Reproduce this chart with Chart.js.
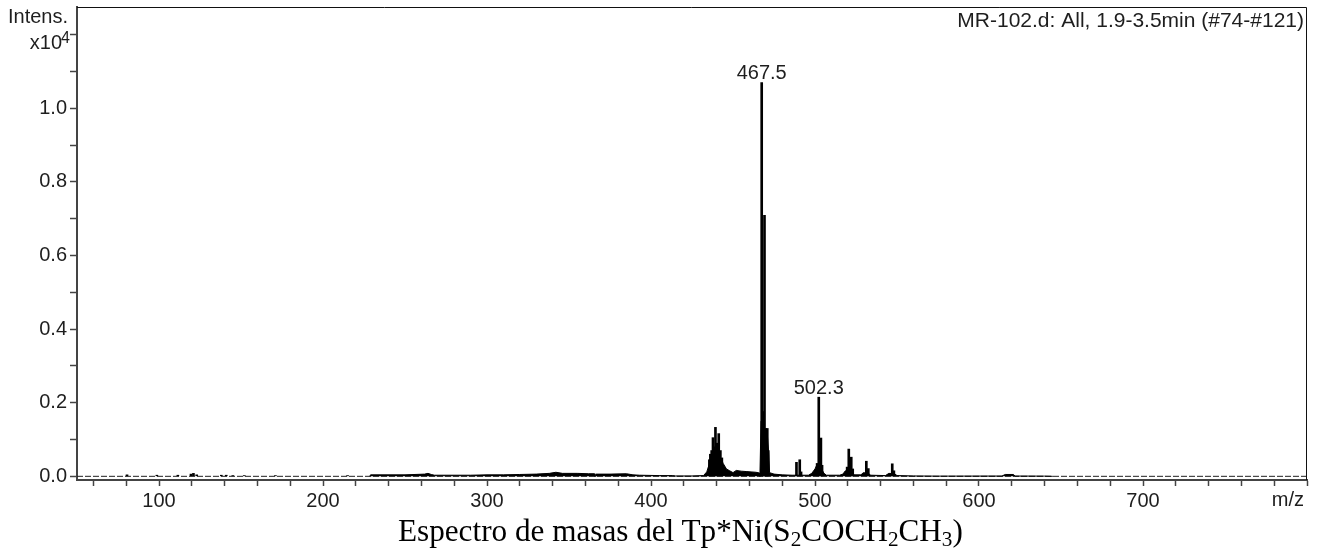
<!DOCTYPE html>
<html>
<head>
<meta charset="utf-8">
<script src="https://cdn.jsdelivr.net/npm/chart.js@4.4.1/dist/chart.umd.min.js"></script>
<style>
  body { margin: 0; background: #fff; }
  #wrap { position: relative; width: 1319px; height: 557px; }
  #caption {
    position: absolute; left: 398px; top: 513px;
    font-family: 'Liberation Serif', 'Times New Roman', serif;
    font-size: 31.2px; color: #000; white-space: nowrap;
  }
  #caption sub { font-size: 0.68em; vertical-align: -0.22em; line-height: 0; }
</style>
</head>
<body>
<div id="wrap">
  <canvas id="spectrum" width="1319" height="557"></canvas>
  <div id="caption">Espectro de masas del Tp*Ni(S<sub>2</sub>COCH<sub>2</sub>CH<sub>3</sub>)</div>
</div>
<script>
// Mass spectrum, intensities in units of 10^4
const sampleTitle = 'MR-102.d: All, 1.9-3.5min (#74-#121)';
const labeledPeaks = [467.5, 502.3];

// individual peaks (sticks)
const stickMz = [
  80.5, 98.7, 111.5, 119.5, 121, 123, 138, 141, 145, 152, 171, 215,
  435.6, 436.2, 437.0, 437.8, 438.6, 439.3, 440.3, 441.3, 442.3, 443.2,
  467.5, 468.4, 469.2, 469.9, 470.4, 470.9, 471.5,
  488.7, 490.7, 491.5,
  501.3, 502.3, 503.6, 504.3,
  519.6, 520.6, 522.1, 523.0,
  531.3, 532.5,
  547.1, 548.1
];
const stickIntensity = [
  0.004, 0.003, 0.003, 0.006, 0.008, 0.004, 0.003, 0.003, 0.002, 0.002, 0.002, 0.002,
  0.045, 0.06, 0.07, 0.105, 0.08, 0.133, 0.09, 0.116, 0.07, 0.05,
  1.07, 0.176, 0.709, 0.13, 0.122, 0.13, 0.07,
  0.038, 0.045, 0.012,
  0.035, 0.215, 0.104, 0.03,
  0.025, 0.074, 0.052, 0.02,
  0.041, 0.021,
  0.034, 0.015
];

// low continuum under the peaks
const envelopeMz = [
  228.5, 229, 250, 262, 264, 266, 268, 290, 300, 310, 320, 330, 338, 342, 346, 355, 362,
  365.5, 365.8, 366.2, 366.5, 375, 385, 389, 393, 405, 413, 415, 425, 432,
  434, 436, 437.5, 439, 441, 442.5, 444, 446, 448, 450, 452, 455, 458, 461, 464, 466.2, 466.4,
  467.1, 468.5, 469.6, 471, 471.8, 472.3, 475, 480, 486, 496, 498, 500, 501, 504, 505.5, 507,
  515, 517, 518.5, 522.5, 524, 528, 529.5, 532.5, 534, 543, 545, 548.5, 550, 560, 575,
  614, 616, 621, 622, 640, 645
];
const envelopeIntensity = [
  0, 0.004, 0.004, 0.006, 0.008, 0.005, 0.003, 0.003, 0.004, 0.004, 0.005, 0.006, 0.008, 0.011, 0.008, 0.008, 0.007,
  0.007, 0, 0, 0.006, 0.006, 0.007, 0.004, 0.003, 0.002, 0.002, 0.001, 0.001, 0.002,
  0.012, 0.04, 0.06, 0.07, 0.065, 0.05, 0.035, 0.02, 0.015, 0.01, 0.016, 0.014, 0.013, 0.012, 0.011, 0.009, 0,
  0.15, 0.15, 0.12, 0.11, 0.06, 0.01, 0.006, 0.004, 0.003, 0.003, 0.008, 0.02, 0.03, 0.02, 0.008, 0.003,
  0.003, 0.006, 0.015, 0.012, 0.004, 0.004, 0.01, 0.008, 0.003, 0.002, 0.008, 0.007, 0.002, 0.001, 0.0005,
  0.0008, 0.005, 0.005, 0.0008, 0.0005, 0
];

const xRange = [50, 800];
const yRange = [-0.01, 1.275];

const FONT = "'Liberation Sans', Arial, sans-serif";
const TEXT = '#1e1e1e';

const sticks = stickMz.map((m, i) => ({ x: m, y: stickIntensity[i] }));
const envelope = envelopeMz.map((m, i) => ({ x: m, y: envelopeIntensity[i] }));

const overlay = {
  id: 'overlay',
  afterDraw(chart) {
    const { ctx, chartArea: a, scales: { x, y } } = chart;
    ctx.save();
    // top / right frame
    ctx.strokeStyle = '#111';
    ctx.lineWidth = 1;
    ctx.beginPath();
    ctx.moveTo(a.left, a.top + 0.5);
    ctx.lineTo(a.right - 0.5, a.top + 0.5);
    ctx.lineTo(a.right - 0.5, a.bottom);
    ctx.stroke();

    ctx.fillStyle = TEXT;
    // peak labels
    ctx.font = '20px ' + FONT;
    ctx.textAlign = 'center';
    ctx.textBaseline = 'alphabetic';
    labeledPeaks.forEach(m => {
      const i = stickMz.indexOf(m);
      ctx.fillText(m.toFixed(1), x.getPixelForValue(m), y.getPixelForValue(stickIntensity[i]) - 3);
    });

    // sample title
    ctx.font = '21px ' + FONT;
    ctx.textAlign = 'right';
    ctx.fillText(sampleTitle, a.right - 3, 27);

    // axis captions
    ctx.font = '20px ' + FONT;
    ctx.fillText('Intens.', 68, 23);
    const ty = y.getPixelForValue(1.2);
    ctx.fillText('x10', 62, ty + 14);
    ctx.font = '16px ' + FONT;
    ctx.fillText('4', 70, ty + 8);
    ctx.font = '20px ' + FONT;
    ctx.fillText('m/z', a.right - 3, 506);
    ctx.restore();
  }
};

new Chart(document.getElementById('spectrum'), {
  data: {
    datasets: [
      {
        type: 'line',
        data: [{ x: xRange[0], y: 0 }, { x: xRange[1], y: 0 }],
        borderColor: '#222',
        borderWidth: 1,
        borderDash: [6, 2],
        pointRadius: 0,
        order: 3
      },
      {
        type: 'line',
        data: envelope,
        borderColor: '#000',
        backgroundColor: '#000',
        borderWidth: 1,
        fill: 'origin',
        pointRadius: 0,
        tension: 0,
        order: 2
      },
      {
        type: 'bar',
        data: sticks,
        backgroundColor: '#000',
        barThickness: 2,
        grouped: false,
        order: 1
      }
    ]
  },
  options: {
    responsive: false,
    devicePixelRatio: 1,
    animation: false,
    layout: { padding: { left: 0, right: 12, top: 7, bottom: 0 } },
    plugins: { legend: { display: false }, tooltip: { enabled: false } },
    scales: {
      x: {
        type: 'linear',
        offset: false,
        min: xRange[0],
        max: xRange[1],
        border: { color: '#444', width: 2 },
        grid: { offset: false, drawOnChartArea: false, tickLength: 6, tickColor: '#444', tickWidth: 1.5 },
        ticks: {
          stepSize: 20,
          includeBounds: false,
          autoSkip: false,
          maxRotation: 0,
          padding: 3,
          color: TEXT,
          font: { family: FONT, size: 20 },
          callback: v => (v % 100 === 0 && v < 800) ? String(v) : ''
        },
        afterFit: s => { s.height = 77; s.paddingLeft = 0; s.paddingRight = 0; }
      },
      y: {
        min: yRange[0],
        max: yRange[1],
        border: { color: '#444', width: 2 },
        grid: { drawOnChartArea: false, tickLength: 7, tickColor: '#444', tickWidth: 1.5 },
        ticks: {
          stepSize: 0.1,
          includeBounds: false,
          autoSkip: false,
          padding: 3,
          color: TEXT,
          font: { family: FONT, size: 20 },
          callback: v => {
            const k = Math.round(v * 10);
            return (k % 2 === 0 && k <= 10) ? (k / 10).toFixed(1) : '';
          }
        },
        afterFit: s => { s.width = 77; s.paddingTop = 0; s.paddingBottom = 0; }
      }
    }
  },
  plugins: [overlay]
});
</script>
</body>
</html>
